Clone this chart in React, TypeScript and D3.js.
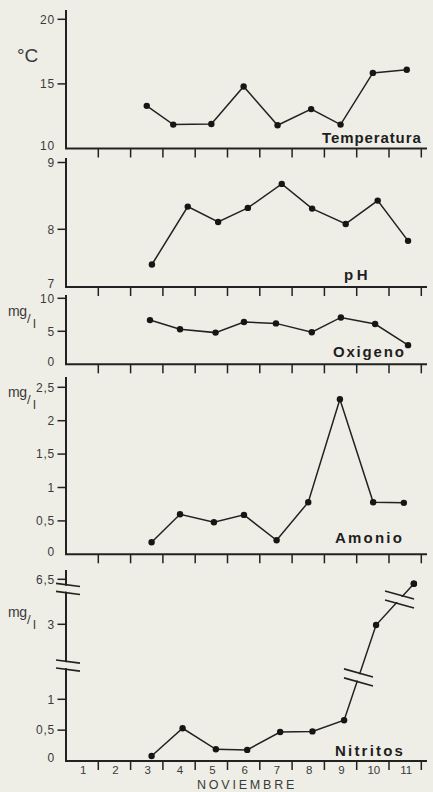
import React from "react";
import * as d3 from "d3";

// ---- data (x in "day of November" units) ----
const dayLabels = ["1", "2", "3", "4", "5", "6", "7", "8", "9", "10", "11"];

const tempDays = [3.0, 3.82, 5.0, 6.0, 7.05, 8.09, 9.0, 10.0, 11.05];
const tempVals = [13.3, 11.85, 11.9, 14.8, 11.8, 13.05, 11.85, 15.85, 16.1];
const tempTicks = [10, 15, 20];

const phDays = [3.16, 4.27, 5.21, 6.13, 7.18, 8.12, 9.16, 10.15, 11.09];
const phVals = [7.39, 8.34, 8.11, 8.32, 8.68, 8.31, 8.08, 8.43, 7.8];
const phTicks = [7, 8, 9];

const oxDays = [3.1, 4.03, 5.13, 6.01, 7.0, 8.11, 9.01, 10.07, 11.09];
const oxVals = [6.7, 5.3, 4.8, 6.4, 6.2, 4.85, 7.1, 6.1, 2.9];
const oxTicks = [0, 5, 10];

const amDays = [3.15, 4.03, 5.08, 6.01, 7.02, 8.0, 8.98, 10.01, 10.96];
const amVals = [0.18, 0.6, 0.48, 0.59, 0.21, 0.78, 2.32, 0.78, 0.77];
const amTicks = [0, 0.5, 1, 1.5, 2, 2.5];

const niDays = [3.15, 4.11, 5.14, 6.11, 7.13, 8.13, 9.11, 10.1, 11.27];
const niVals = [0.08, 0.53, 0.19, 0.18, 0.47, 0.48, 0.66, 2.98, 6.15];
const niTicks = [0, 0.5, 1, 3, 6.5];
const niAxisBreaks = [1.9, 5.75];
// breaks drawn on the line segment i -> i+1, at fraction t
const niLineBreaks = [
  { seg: 6, t: 0.45 },
  { seg: 7, t: 0.62 },
];

// ---- layout ----
const W = 433;
const H = 792;
const BG = "#eeeee6";
const INK = "#222";
const TXT = "#3a3a3a";
const X0 = 66;
const XEND = 427;
const x = d3.scaleLinear().domain([0.5, 11.5]).range([X0, 421.3]);
const boundaries = d3.range(1.5, 12, 1);

const fmt = (v: number) => String(v).replace(".", ",");

type Panel = {
  days: number[];
  vals: number[];
  ticks: number[];
  y: d3.ScaleLinear<number, number>;
  top: number;
  label: string;
  labelX: number;
  labelY: number;
  ls: number;
};

const panels: Panel[] = [
  {
    days: tempDays, vals: tempVals, ticks: tempTicks,
    y: d3.scaleLinear().domain([10, 20]).range([148.5, 19.3]),
    top: 10, label: "Temperatura", labelX: 322, labelY: 143, ls: 0.9,
  },
  {
    days: phDays, vals: phVals, ticks: phTicks,
    y: d3.scaleLinear().domain([7, 8, 9]).range([287, 229.3, 162.5]),
    top: 158, label: "pH", labelX: 344, labelY: 280, ls: 3.5,
  },
  {
    days: oxDays, vals: oxVals, ticks: oxTicks,
    y: d3.scaleLinear().domain([0, 10]).range([364.3, 298.3]),
    top: 295, label: "Oxigeno", labelX: 333, labelY: 357, ls: 1.8,
  },
  {
    days: amDays, vals: amVals, ticks: amTicks,
    y: d3.scaleLinear().domain([0, 2.5]).range([554.3, 387.3]),
    top: 377, label: "Amonio", labelX: 335, labelY: 542.5, ls: 2.2,
  },
  {
    days: niDays, vals: niVals, ticks: niTicks,
    y: d3.scaleLinear().domain([0, 1, 3, 6.5]).range([761, 699.3, 624.3, 579.3]),
    top: 570, label: "Nitritos", labelX: 335, labelY: 755.5, ls: 2.2,
  },
];

const FONT = "'Liberation Sans', Arial, Helvetica, sans-serif";

function BreakMark({ cx, cy, len, gap, slope }: { cx: number; cy: number; len: number; gap: number; slope: number }) {
  const hx = len / 2;
  const hy = (len / 2) * slope;
  const a1 = [cx - hx, cy - gap / 2 - hy];
  const a2 = [cx + hx, cy - gap / 2 + hy];
  const b1 = [cx - hx, cy + gap / 2 - hy];
  const b2 = [cx + hx, cy + gap / 2 + hy];
  return (
    <g>
      <polygon
        points={`${a1[0] + 3},${a1[1] + 1} ${a2[0] - 3},${a2[1] + 1} ${b2[0] - 3},${b2[1] - 1} ${b1[0] + 3},${b1[1] - 1}`}
        fill={BG}
      />
      <line x1={a1[0]} y1={a1[1]} x2={a2[0]} y2={a2[1]} stroke={INK} strokeWidth={1.6} />
      <line x1={b1[0]} y1={b1[1]} x2={b2[0]} y2={b2[1]} stroke={INK} strokeWidth={1.6} />
    </g>
  );
}

function MgL({ base }: { base: number }) {
  return (
    <g fontFamily={FONT} fill={TXT}>
      <text x={8} y={base} fontSize={14} letterSpacing={-0.5}>mg</text>
      <text x={27} y={base + 7} fontSize={13}>/</text>
      <text x={33} y={base + 12} fontSize={13}>l</text>
    </g>
  );
}

export default function App() {
  const ni = panels[4];
  return (
    <svg
      width={W}
      height={H}
      style={{ position: "absolute", left: 0, top: 0, background: BG }}
      fontFamily={FONT}
    >
      <rect x={0} y={0} width={W} height={H} fill={BG} />
      {panels.map((p, pi) => {
        const y0 = p.y.range()[0];
        const dMin = p.y.domain()[0];
        const line = d3
          .line<number>()
          .x((_, i) => x(p.days[i]))
          .y((v) => p.y(v));
        return (
          <g key={pi}>
            {/* y axis */}
            <line x1={X0} y1={p.top} x2={X0} y2={y0} stroke={INK} strokeWidth={2} />
            {p.ticks.map((t) => (
              <g key={t}>
                {t !== dMin && (
                  <line x1={57.5} x2={X0} y1={p.y(t)} y2={p.y(t)} stroke={INK} strokeWidth={1.5} />
                )}
                <text
                  x={55}
                  y={p.y(t) - (t === dMin ? 3 : 0)}
                  dy="0.36em"
                  textAnchor="end"
                  fontSize={12}
                  letterSpacing={0.8}
                  fill={TXT}
                >
                  {fmt(t)}
                </text>
              </g>
            ))}
            {/* x axis */}
            <line x1={X0 - 1} y1={y0} x2={XEND} y2={y0} stroke={INK} strokeWidth={2} />
            {boundaries.map((b) => (
              <line key={b} x1={x(b)} x2={x(b)} y1={y0} y2={y0 + 9} stroke={INK} strokeWidth={1.5} />
            ))}
            {/* series */}
            <path d={line(p.vals) || ""} fill="none" stroke={INK} strokeWidth={1.5} />
            {p.vals.map((v, i) => (
              <circle key={i} cx={x(p.days[i])} cy={p.y(v)} r={3.2} fill="#161616" />
            ))}
            <text
              x={p.labelX}
              y={p.labelY}
              fontSize={15}
              fontWeight={700}
              letterSpacing={p.ls}
              fill="#1e1e1e"
            >
              {p.label}
            </text>
          </g>
        );
      })}

      {/* breaks in the Nitritos panel */}
      {niAxisBreaks.map((b) => (
        <BreakMark key={b} cx={68} cy={ni.y(b)} len={24} gap={8} slope={0.13} />
      ))}
      {niLineBreaks.map((br) => {
        const i = br.seg;
        const xa = x(ni.days[i]);
        const ya = ni.y(ni.vals[i]);
        const xb = x(ni.days[i + 1]);
        const yb = ni.y(ni.vals[i + 1]);
        const cx = xa + (xb - xa) * br.t;
        const cy = ya + (yb - ya) * br.t;
        return <BreakMark key={i} cx={cx} cy={cy} len={29} gap={9} slope={0.28} />;
      })}
      {/* redraw end marker above break mask */}
      <circle cx={x(niDays[8])} cy={ni.y(niVals[8])} r={3.2} fill="#161616" />

      {/* unit labels */}
      <text x={17} y={62} fontSize={19} fill={TXT}>°C</text>
      <MgL base={316} />
      <MgL base={397} />
      <MgL base={617} />

      {/* day labels */}
      {dayLabels.map((d, i) => (
        <text
          key={d}
          x={x(i + 1) + 1}
          y={774}
          textAnchor="middle"
          fontSize={11.5}
          fill={TXT}
        >
          {d}
        </text>
      ))}
      <text x={247} y={789} textAnchor="middle" fontSize={12.5} letterSpacing={2.8} fill={TXT}>
        NOVIEMBRE
      </text>
    </svg>
  );
}
